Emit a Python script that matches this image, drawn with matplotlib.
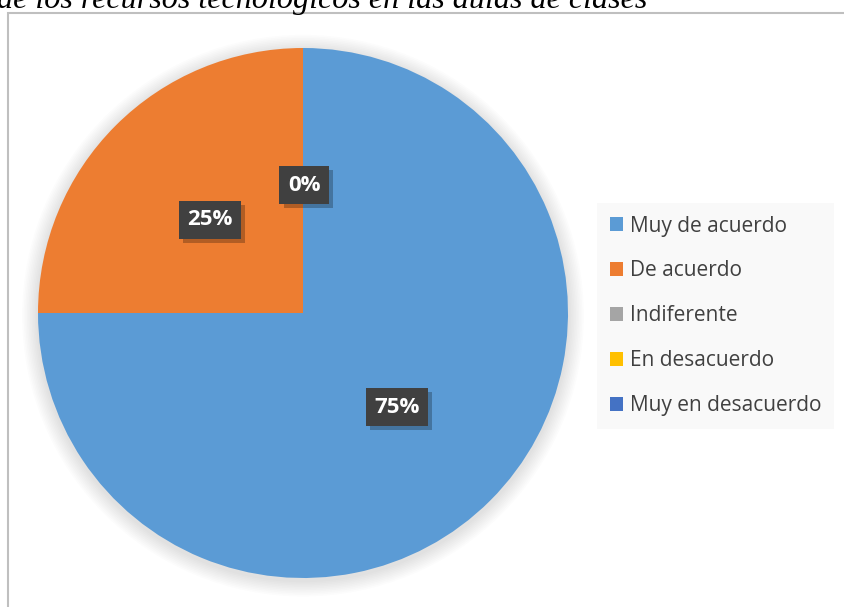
import matplotlib
matplotlib.use("Agg")
import matplotlib.pyplot as plt
from matplotlib.patches import Rectangle, Circle, Patch
import matplotlib.patheffects as pe

# data
labels = ["Muy de acuerdo", "De acuerdo", "Indiferente", "En desacuerdo", "Muy en desacuerdo"]
values = [75, 25, 0, 0, 0]
colors = ["#5B9BD5", "#ED7D31", "#A5A5A5", "#FFC000", "#4472C4"]
title = "de los recursos tecnológicos en las aulas de clases"

W, H = 844, 607
fig = plt.figure(figsize=(W / 100, H / 100), dpi=100)
fig.patch.set_facecolor("white")

# chart frame (cut by the page edge on the right and bottom)
fig.patches.append(Rectangle((8 / W, -0.01), 1.0, (H - 13) / H + 0.01,
                             transform=fig.transFigure, fill=False,
                             edgecolor="#BFBFBF", linewidth=1.5))

# cut-off caption above the chart
t = fig.text(-3 / W, 1 - 8 / H, title, family="Liberation Serif", style="italic",
             fontsize=22, color="black", ha="left", va="baseline")
fig.canvas.draw()
bb = t.get_window_extent()
t.set_fontsize(22 * 648 / bb.width)

# pie axes: center (303, 313), radius 265 px
cx, cy, r = 303, 313, 265
ax = fig.add_axes([(cx - r) / W, (H - cy - r) / H, 2 * r / W, 2 * r / H])
ax.axis("off")

# soft shadow
for i in range(10):
    ax.add_patch(Circle((0.0, -0.01), 1.0 + 0.006 * (10 - i), color="black",
                        alpha=0.01, zorder=0, linewidth=0, clip_on=False))

wedges, _ = ax.pie(values, colors=colors, startangle=90, counterclock=False,
                   radius=1.0, wedgeprops=dict(linewidth=0))
for w in wedges:
    w.set_zorder(2)
ax.set_xlim(-1, 1)
ax.set_ylim(-1, 1)
ax.set_aspect("equal")

# data labels (the 0% label sits on the zero-size slices at the top)
label_pos = [(0.355, -0.355), (-0.351, 0.351), (0.004, 0.483)]
for (x, y), v in zip(label_pos, values):
    ax.text(x, y, f"{v}%", ha="center", va="center", color="white",
            fontsize=16, fontweight="bold", family="Open Sans", zorder=5,
            bbox=dict(boxstyle="square,pad=0.38", facecolor="#404040",
                      edgecolor="none",
                      path_effects=[pe.SimplePatchShadow(offset=(3, -3), alpha=0.25,
                                                         shadow_rgbFace="black"),
                                    pe.Normal()]))

# legend
handles = [Patch(facecolor=c, edgecolor="none") for c in colors]
leg = fig.legend(handles, labels, loc="upper left",
                 bbox_to_anchor=(597 / W, 1 - 203 / H), frameon=True,
                 prop=dict(family="Open Sans", size=15),
                 handlelength=0.65, handleheight=0.65, handletextpad=0.33,
                 labelspacing=1.15, borderpad=0.6, borderaxespad=0)
leg.get_frame().set_facecolor("#F8F8F8")
leg.get_frame().set_edgecolor("none")
leg.get_frame().set_boxstyle("square", pad=0)
for txt in leg.get_texts():
    txt.set_color("#404040")

fig.savefig("out.png", dpi=100, facecolor="white")
